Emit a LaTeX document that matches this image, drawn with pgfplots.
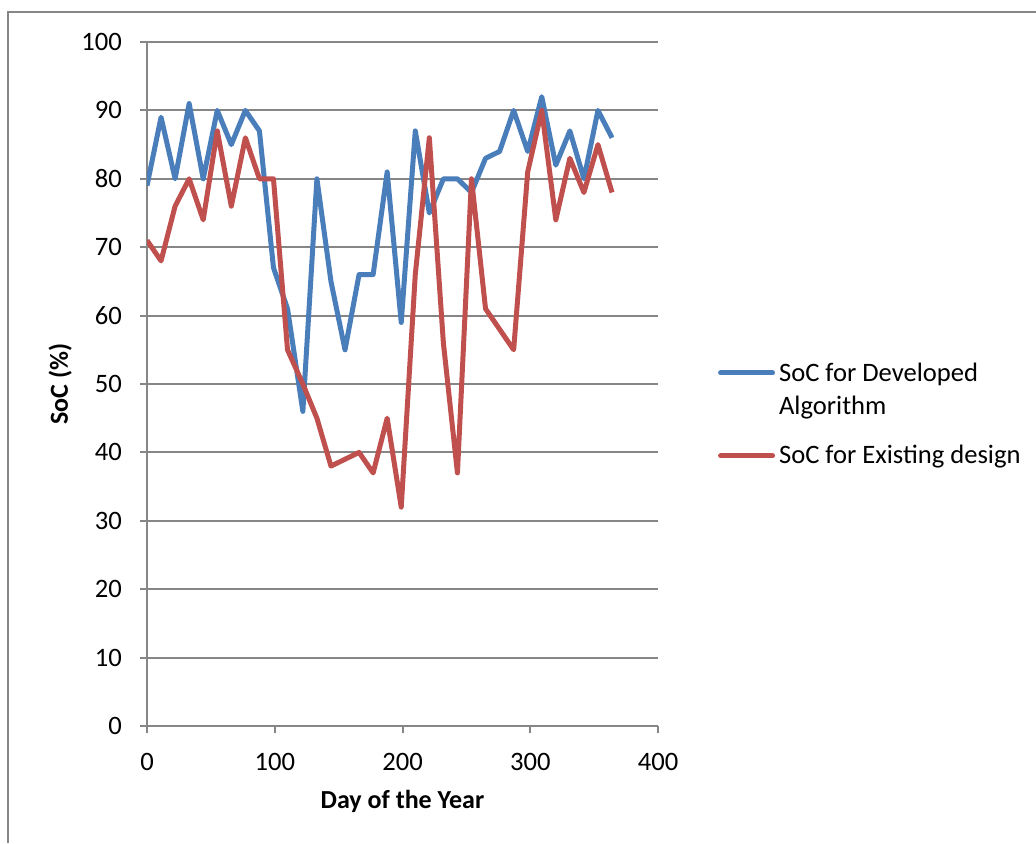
\documentclass[border=0pt]{standalone}
\usepackage{fontspec}
\setmainfont{Carlito}
\usepackage{pgfplots}
\pgfplotsset{compat=1.18}
\definecolor{sblue}{RGB}{74,126,187}
\definecolor{sred}{RGB}{192,80,77}
\definecolor{gridgray}{RGB}{134,134,134}
\pgfplotsset{
  raisedleg/.style={legend image code/.code={\draw[##1, line cap=round] (0pt,3.75pt) -- (26pt,3.75pt);}},
}
\begin{document}
\begin{tikzpicture}[font=\fontsize{13.3}{16.5}\selectfont]
\useasboundingbox (0,0) rectangle (518pt,421.5pt);
\draw[gridgray, line width=0.75pt] (4pt,0) -- (4pt,415.5pt) -- (518pt,415.5pt);
\begin{axis}[
  at={(73.5pt,58.5pt)}, anchor=south west,
  scale only axis, width=255.5pt, height=342pt,
  xmin=0, xmax=400, ymin=0, ymax=100,
  xtick={0,100,200,300,400}, ytick={0,10,...,100},
  axis lines*=left,
  axis line style={gridgray, line width=1pt},
  ymajorgrids, grid style={gridgray, line width=1pt},
  tick style={gridgray, line width=1pt},
  tick align=outside, major tick length=3.5pt,
  /pgf/number format/assume math mode=true,
  ticklabel style={font=\fontsize{13.3}{16.5}\selectfont},
  xticklabel style={yshift=-6.5pt},
  yticklabel style={xshift=-5.5pt},
  every axis y label/.style={at={(axis description cs:-0.170,0.5)}, rotate=90, anchor=center, font=\fontsize{13}{16}\selectfont\bfseries},
  every axis x label/.style={at={(axis description cs:0.5,-0.1096)}, anchor=center, font=\fontsize{13}{16}\selectfont\bfseries},
  ylabel={SoC (\%)},
  xlabel={Day of the Year},
  legend cell align=left,
  legend style={at={(1.105,0.549)}, anchor=north west, draw=none, fill=none,
    font=\fontsize{13.3}{16.5}\selectfont, row sep=17.5pt},
  legend image code/.code={\draw[#1, line cap=round] (0pt,0pt) -- (26pt,0pt);},
]
\addplot[sblue, line width=2.5pt, line join=round, raisedleg] coordinates {
(0,79) (11,89) (22,80) (33,91) (44,80) (55,90) (66,85) (77,90) (88,87) (99,67)
(110,61) (122,46) (133,80) (144,65) (155,55) (166,66) (177,66) (188,81) (199,59) (210,87)
(221,75) (232,80) (243,80) (254,78) (265,83) (276,84) (287,90) (298,84) (309,92) (320,82)
(331,87) (342,80) (353,90) (364,86)
};
\addlegendentry{\begin{tabular}{@{}l@{}}SoC for Developed\\Algorithm\end{tabular}}
\addplot[sred, line width=2.5pt, line join=round] coordinates {
(0,71) (11,68) (22,76) (33,80) (44,74) (55,87) (66,76) (77,86) (88,80) (99,80)
(110,55) (122,50) (133,45) (144,38) (155,39) (166,40) (177,37) (188,45) (199,32) (210,66)
(221,86) (232,56) (243,37) (254,80) (265,61) (276,58) (287,55) (298,81) (309,90) (320,74)
(331,83) (342,78) (353,85) (364,78)
};
\addlegendentry{SoC for Existing design}
\end{axis}
\end{tikzpicture}
\end{document}
